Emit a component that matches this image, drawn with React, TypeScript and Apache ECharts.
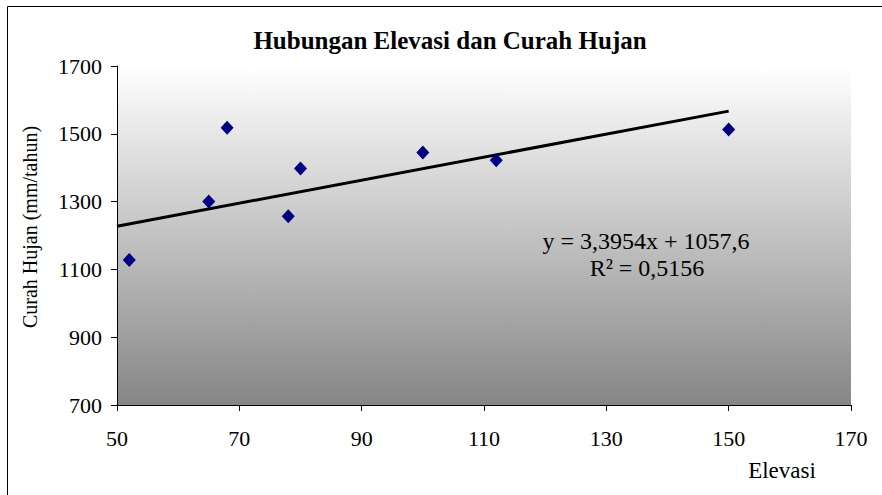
import React, { useEffect, useRef } from "react";
import * as echarts from "echarts";

const elevasi = [52, 65, 68, 78, 80, 100, 112, 150];
const curahHujan = [1128, 1300, 1518, 1257, 1398, 1445, 1422, 1513];
const slope = 3.3954;
const intercept = 1057.6;
const trendX = [50, 150];
const eqLine1 = "y = 3,3954x + 1057,6";
const eqLine2 = "R² = 0,5156";

const FONT = "'Liberation Serif', 'DejaVu Serif', serif";

export default function App() {
  const ref = useRef<HTMLDivElement>(null);
  useEffect(() => {
    if (!ref.current) return;
    const chart = echarts.init(ref.current, null, { renderer: "svg" });
    const trend = trendX.map((x) => [x, +(slope * x + intercept).toFixed(2)]);
    chart.setOption({
      animation: false,
      backgroundColor: "#ffffff",
      graphic: [
        {
          type: "rect",
          shape: { x: 7.5, y: 6.5, width: 900, height: 520 },
          style: { fill: "none", stroke: "#000", lineWidth: 1 },
          silent: true,
        },
        {
          type: "text",
          x: 450,
          y: 40,
          style: {
            text: "Hubungan Elevasi dan Curah Hujan",
            fontFamily: FONT,
            fontSize: 25,
            fontWeight: "bold",
            fill: "#000",
            align: "center",
            verticalAlign: "middle",
          },
        },
        {
          type: "text",
          x: 646,
          y: 241,
          style: {
            text: eqLine1,
            fontFamily: FONT,
            fontSize: 24,
            fill: "#000",
            align: "center",
            verticalAlign: "middle",
          },
          z: 100,
        },
        {
          type: "text",
          x: 647,
          y: 268,
          style: {
            text: eqLine2,
            fontFamily: FONT,
            fontSize: 24,
            fill: "#000",
            align: "center",
            verticalAlign: "middle",
          },
          z: 100,
        },
        {
          type: "text",
          x: 782,
          y: 470,
          style: {
            text: "Elevasi",
            fontFamily: FONT,
            fontSize: 23,
            fill: "#000",
            align: "center",
            verticalAlign: "middle",
          },
        },
        {
          type: "text",
          x: 30,
          y: 227,
          rotation: Math.PI / 2,
          style: {
            text: "Curah Hujan (mm/tahun)",
            fontFamily: FONT,
            fontSize: 20,
            fill: "#000",
            align: "center",
            verticalAlign: "middle",
          },
        },
      ],
      grid: {
        left: 117,
        right: 31,
        top: 66,
        bottom: 90,
        outerBoundsMode: "none",
        containLabel: false,
        show: true,
        borderWidth: 0,
        backgroundColor: new echarts.graphic.LinearGradient(0, 0, 0, 1, [
          { offset: 0, color: "#ffffff" },
          { offset: 1, color: "#868686" },
        ]),
      },
      xAxis: {
        type: "value",
        min: 50,
        max: 170,
        interval: 20,
        axisLine: { show: true, lineStyle: { color: "#000", width: 1 } },
        axisTick: { show: true, inside: false, length: 6, lineStyle: { color: "#000" } },
        axisLabel: {
          fontFamily: FONT,
          fontSize: 22,
          color: "#000",
          margin: 22,
          formatter: (v: number) => String(v),
        },
        splitLine: { show: false },
      },
      yAxis: {
        type: "value",
        min: 700,
        max: 1700,
        interval: 200,
        axisLine: { show: true, lineStyle: { color: "#000", width: 1 } },
        axisTick: { show: true, inside: false, length: 6, lineStyle: { color: "#000" } },
        axisLabel: {
          fontFamily: FONT,
          fontSize: 22,
          color: "#000",
          margin: 15,
          formatter: (v: number) => String(v),
        },
        splitLine: { show: false },
      },
      series: [
        {
          type: "line",
          data: trend,
          symbol: "none",
          lineStyle: { color: "#000", width: 3 },
          z: 2,
        },
        {
          type: "scatter",
          data: elevasi.map((x, i) => [x, curahHujan[i]]),
          symbol: "diamond",
          symbolSize: [13, 14],
          itemStyle: { color: "#000080", opacity: 1 },
          z: 3,
        },
      ],
    });
    return () => chart.dispose();
  }, []);
  return (
    <div
      ref={ref}
      style={{ position: "fixed", left: 0, top: 0, width: 882, height: 495 }}
    />
  );
}
